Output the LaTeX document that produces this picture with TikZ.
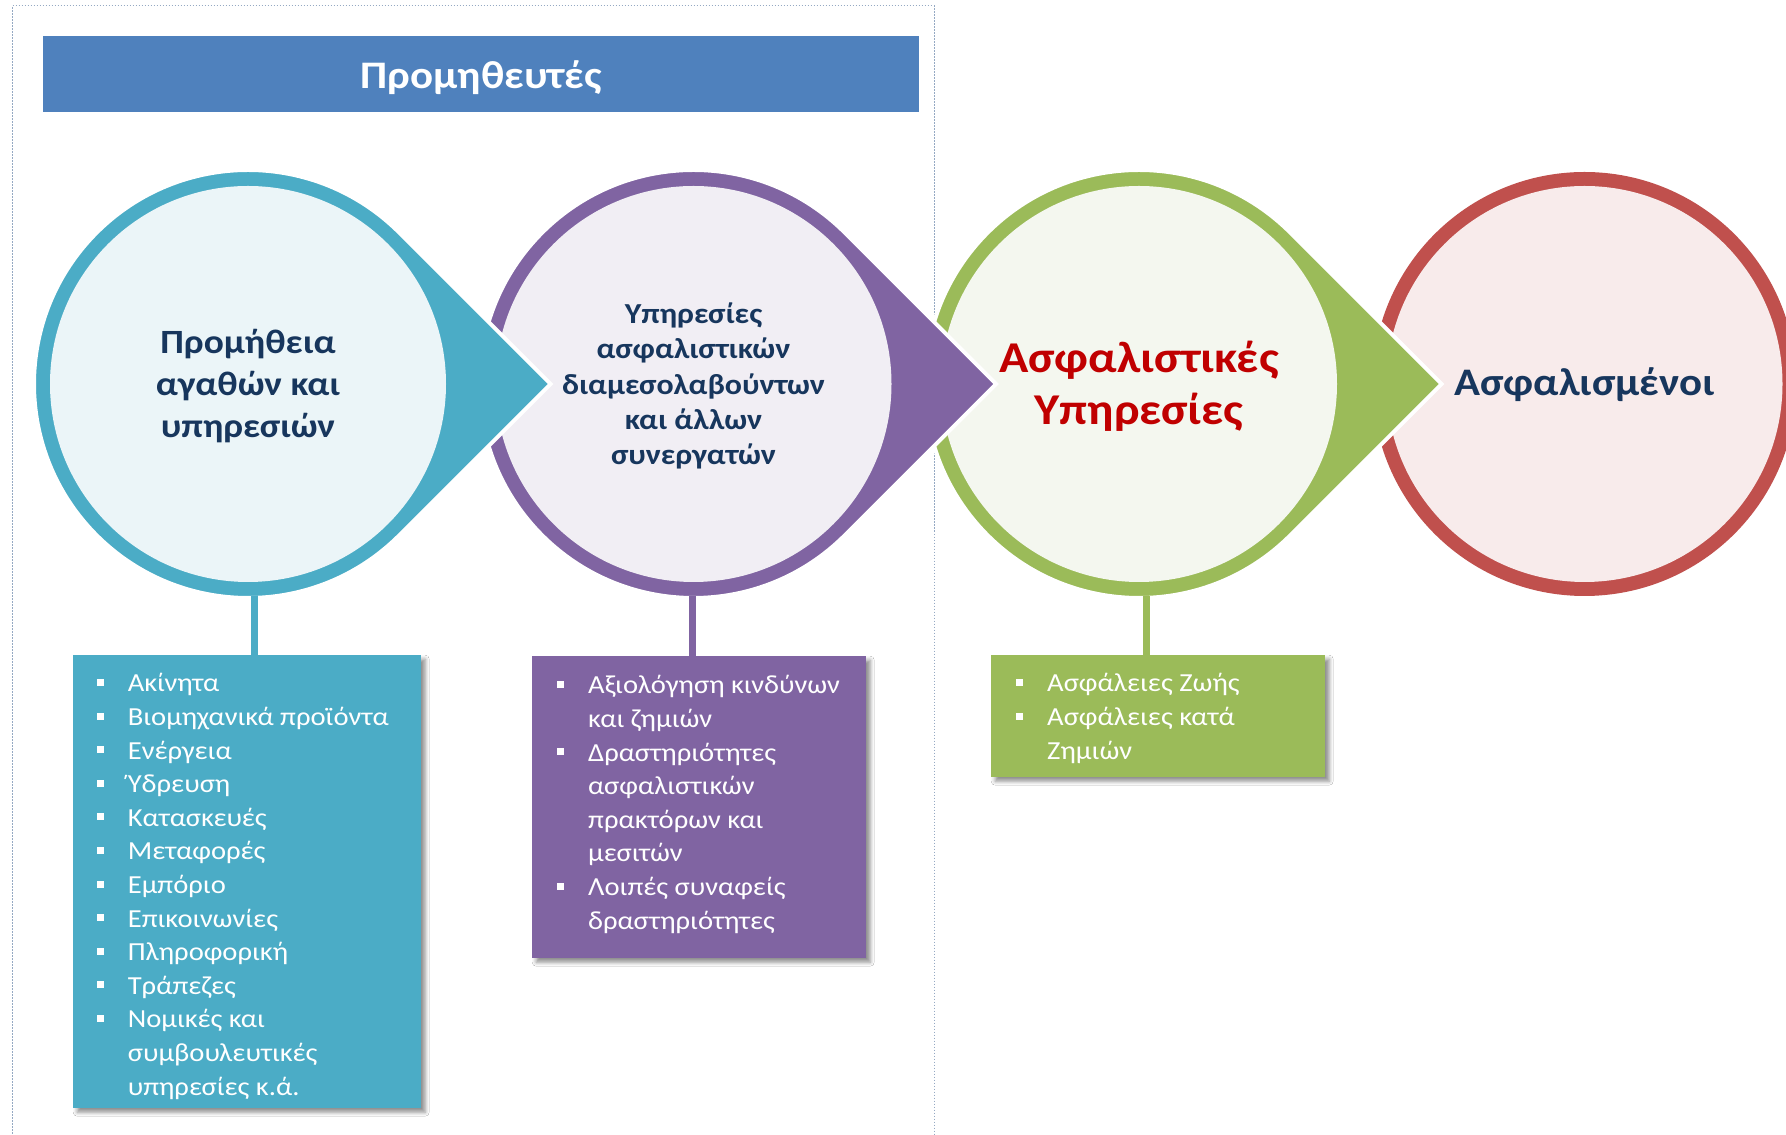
\documentclass[tikz,border=0pt]{standalone}
\usepackage{fontspec}
\setmainfont{Carlito}[FakeStretch=1.1]
\usetikzlibrary{calc,shadows.blur}
\definecolor{cTeal}{HTML}{4BACC6}
\definecolor{cTealL}{HTML}{EBF5F8}
\definecolor{cPurp}{HTML}{8064A2}
\definecolor{cPurpL}{HTML}{F1EEF4}
\definecolor{cGreen}{HTML}{9BBB59}
\definecolor{cGreenL}{HTML}{F4F7EF}
\definecolor{cRed}{HTML}{C0504D}
\definecolor{cRedL}{HTML}{F8EBEB}
\definecolor{cBanner}{HTML}{4F81BD}
\definecolor{cNavy}{HTML}{17365D}
\definecolor{cDarkRed}{HTML}{C00000}
\definecolor{cFrame}{HTML}{95A9C3}
\newcommand{\bul}{\llap{\raisebox{6pt}{\rule{7pt}{7pt}}\hspace{24pt}}}
\newcommand{\tear}[3]{%
  \path[fill=#2, draw=white, line width=4pt] (#1) ++(45:214pt)
    arc[start angle=45, end angle=315, radius=214pt] -- ($(#1)+(302.6pt,0pt)$) -- cycle;
  \fill[#3] (#1) circle[radius=198pt];}
\begin{document}
\begin{tikzpicture}[x=1pt,y=1pt,
  ctext/.style={circle, minimum size=424pt, inner sep=0pt, align=center, text=cNavy},
  boxst/.style={anchor=north west, inner sep=0pt, blur shadow={shadow xshift=4pt, shadow yshift=-4pt, shadow blur radius=4pt, shadow opacity=45}},
  btext/.style={anchor=base west, inner sep=0pt, text=white, font=\fontsize{26}{33.6}\selectfont},
  stem/.style={line width=7pt}]
\useasboundingbox (0,0) rectangle (1786,1135);
\fill[white] (0,0) rectangle (1786,1135);
% frame
\draw[cFrame, line width=1pt, dash pattern=on 1.5pt off 1.5pt] (12.5,-5) rectangle (934,1129);
% banner
\node[fill=cBanner, minimum width=876pt, minimum height=76pt, inner sep=0pt, anchor=north west] (banner) at (43,1099) {};
\node[text=white, inner sep=0pt, font=\bfseries\fontsize{39}{46}\selectfont] (btitle) at ($(banner.center)+(0,-3)$) {Προμηθευτές};
% centres
\coordinate (p1) at (248,751);
\coordinate (p2) at (693.5,751);
\coordinate (p3) at (1139,751);
\coordinate (p4) at (1584.5,751);
% shapes, right to left
\fill[cRed] (p4) circle[radius=212pt];
\fill[cRedL] (p4) circle[radius=198pt];
\tear{p3}{cGreen}{cGreenL}
\tear{p2}{cPurp}{cPurpL}
\tear{p1}{cTeal}{cTealL}
% circle texts
\node[ctext, font=\bfseries\fontsize{34}{41.6}\selectfont] (c1) at ($(p1)+(0,-2)$) {Προμήθεια\\αγαθών και\\υπηρεσιών};
\node[ctext, font=\bfseries\fontsize{29}{35.3}\selectfont] (c2) at ($(p2)+(0,-2)$) {Υπηρεσίες\\ασφαλιστικών\\διαμεσολαβούντων\\και άλλων\\συνεργατών};
\node[ctext, text=cDarkRed, font=\bfseries\fontsize{44}{52}\selectfont] (c3) at ($(p3)+(0,-2)$) {Ασφαλιστικές\\Υπηρεσίες};
\node[ctext, font=\bfseries\fontsize{39}{46}\selectfont] (c4) at ($(p4)+(0,-1)$) {Ασφαλισμένοι};
% boxes
\node[boxst, fill=cTeal, minimum width=348pt, minimum height=453pt] (box1) at (73,480) {};
\node[boxst, fill=cPurp, minimum width=334pt, minimum height=302pt] (box2) at (532,479) {};
\node[boxst, fill=cGreen, minimum width=334pt, minimum height=122pt] (box3) at (991,480) {};
% stems
\coordinate (s1) at ($(p1)+(6,-212)$);
\coordinate (s2) at ($(p2)+(-1,-212)$);
\coordinate (s3) at ($(p3)+(7,-212)$);
\draw[stem, cTeal] (s1) -- (s1 |- box1.north);
\draw[stem, cPurp] (s2) -- (s2 |- box2.north);
\draw[stem, cGreen] (s3) -- (s3 |- box3.north);
% box texts
\node[btext] (t1) at (127.6,443) {\begin{tabular}[t]{@{}l@{}}
\bul Ακίνητα\\
\bul Βιομηχανικά προϊόντα\\
\bul Ενέργεια\\
\bul Ύδρευση\\
\bul Κατασκευές\\
\bul Μεταφορές\\
\bul Εμπόριο\\
\bul Επικοινωνίες\\
\bul Πληροφορική\\
\bul Τράπεζες\\
\bul Νομικές και\\
συμβουλευτικές\\
υπηρεσίες κ.ά.
\end{tabular}};
\node[btext] (t2) at (588,441) {\begin{tabular}[t]{@{}l@{}}
\bul Αξιολόγηση κινδύνων\\
και ζημιών\\
\bul Δραστηριότητες\\
ασφαλιστικών\\
πρακτόρων και\\
μεσιτών\\
\bul Λοιπές συναφείς\\
δραστηριότητες
\end{tabular}};
\node[btext] (t3) at (1047,443) {\begin{tabular}[t]{@{}l@{}}
\bul Ασφάλειες Ζωής\\
\bul Ασφάλειες κατά\\
Ζημιών
\end{tabular}};
\end{tikzpicture}
\end{document}
